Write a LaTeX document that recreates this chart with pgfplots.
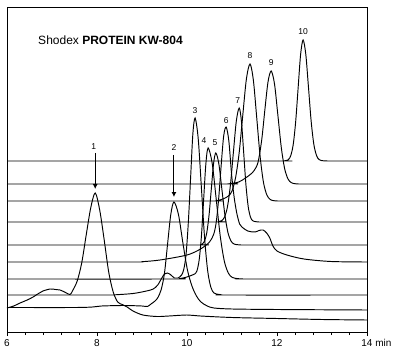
\documentclass[border=0pt]{standalone}
\usepackage{fontspec}
\setmainfont{Liberation Sans}
\usepackage{pgfplots}
\pgfplotsset{compat=1.18}
\usetikzlibrary{arrows.meta}
\begin{document}
\begin{tikzpicture}
\useasboundingbox (0,0) rectangle (397pt,354pt);
\begin{axis}[
  at={(7pt,22pt)}, anchor=south west,
  scale only axis, width=360pt, height=325pt,
  xmin=6, xmax=14, ymin=0, ymax=325,
  xtick={6,8,10,12,14},
  xticklabels={6,8,10,12,14\rlap{ min}},
  minor x tick num=4,
  xtick pos=bottom, tick align=outside,
  major tick length=4pt, minor tick length=3pt,
  ytick=\empty,
  axis line style={line width=0.9pt},
  every tick/.style={black, line width=0.7pt},
  tick label style={font=\fontsize{10}{12}\selectfont},
  /pgf/number format/assume math mode=true,
  clip=false,
  tr/.style={black, solid, line width=0.95pt, smooth, tension=0.5, no markers},
]
% trace 10
\addplot[tr] coordinates {(6,171) (11.9,171) (12.15,171.1) (12.25,172.3) (12.305,176.3) (12.36,187.3) (12.415,210.3) (12.47,244.4) (12.525,277.7) (12.58,292) (12.64,277.7) (12.70,244.4) (12.76,210.3) (12.82,187.3) (12.88,176.3) (12.94,172.3) (13.05,171.1) (13.3,171) (14,171)};
% trace 9
\addplot[tr] coordinates {(6,148) (10.8,148) (10.95,148.3) (11.15,150) (11.3,154) (11.42,158) (11.5,162) (11.58,170) (11.66,192) (11.73,222) (11.80,250) (11.87,261) (11.945,248) (12.02,216.6) (12.095,184.7) (12.17,163.3) (12.245,153) (12.32,149.3) (12.42,148.2) (12.6,148) (14,148)};
% trace 8
\addplot[tr] coordinates {(6,131) (10.5,131) (10.65,131.2) (10.8,133) (10.92,136) (11.0,141) (11.08,154.5) (11.16,179.5) (11.24,217) (11.32,253) (11.4,268) (11.475,251.8) (11.55,214.1) (11.625,175.5) (11.70,149.5) (11.775,137) (11.85,132.5) (11.95,131.2) (12.2,131) (14,131)};
% trace 7
\addplot[tr] coordinates {(6,110) (10.55,110) (10.7,110.3) (10.77,111.3) (10.835,115) (10.9,125.4) (10.965,147) (11.03,179.2) (11.095,210.6) (11.16,224) (11.21,210.6) (11.26,179.2) (11.31,147) (11.36,125.4) (11.41,115) (11.46,111.3) (11.55,110.2) (11.8,110) (14,110)};
% trace 5
\addplot[tr] coordinates {(6,87) (10.2,87) (10.3,87.2) (10.34,88) (10.39,91) (10.44,99.4) (10.49,116.9) (10.54,142.8) (10.59,168.2) (10.64,179) (10.7075,168.2) (10.775,142.8) (10.8425,116.9) (10.91,99.4) (10.9775,91) (11.045,88) (11.15,87.2) (11.4,87) (14,87)};
% trace 6
\addplot[tr] coordinates {(6,70) (8.8,70) (9.0,70.3) (9.4,72) (10.0,77) (10.3,83) (10.5,90) (10.595,98) (10.65,110) (10.705,134) (10.76,167) (10.815,196) (10.87,205) (10.93,191) (10.99,158) (11.05,134) (11.11,118) (11.17,108) (11.22,105) (11.35,101) (11.51,100) (11.6,101.5) (11.69,102) (11.77,99) (11.84,94) (11.91,86) (12.0,81) (12.22,77) (12.6,73) (13.2,70.5) (14,70)};
% trace 4
\addplot[tr] coordinates {(6,53) (9.7,53) (9.85,53.5) (10.0,55) (10.12,57) (10.17,58) (10.22,61) (10.27,72) (10.32,95.5) (10.37,132.5) (10.42,168.6) (10.47,184) (10.56,168.6) (10.65,132.5) (10.74,95.5) (10.83,70.7) (10.92,58.8) (11.01,54.5) (11.15,53.3) (11.4,53) (14,53)};
% trace 3
\addplot[tr] coordinates {(6,37) (8.2,37) (8.4,37.2) (8.8,38.5) (9.1,41) (9.25,43) (9.35,47) (9.44,54) (9.5,58) (9.56,59) (9.63,57.5) (9.72,54) (9.8,54) (9.88,57) (9.93,63) (9.98,78) (10.03,110) (10.08,154) (10.13,198) (10.18,214) (10.25,193) (10.32,144.4) (10.39,94.5) (10.46,61) (10.53,44.8) (10.60,39) (10.72,37.5) (10.9,37) (14,37)};
% trace 2
\addplot[tr] coordinates {(6,24.5) (7.5,24.5) (7.9,25) (8.1,26) (8.6,26.5) (9.0,26) (9.12,25.5) (9.2,28) (9.29,31) (9.36,35) (9.43,43) (9.5,59) (9.57,88.7) (9.64,117.6) (9.71,130) (9.81,117.6) (9.91,88.7) (10.01,62) (10.11,46) (10.21,36) (10.31,30) (10.45,26) (10.6,24) (11.0,23) (12,22.5) (14,22)};
% trace 1
\addplot[tr] coordinates {(6,24) (6.15,26) (6.29,29) (6.45,32) (6.58,35) (6.7,38.5) (6.8,41) (6.96,43) (7.08,42.5) (7.18,42) (7.3,39.5) (7.4,37.5) (7.46,41.5) (7.56,51) (7.66,69) (7.76,97) (7.86,124) (7.96,139) (8.06,122) (8.16,92) (8.26,60) (8.36,40) (8.46,30) (8.56,27.5) (8.67,25) (8.8,21) (9.02,17) (9.33,15.5) (9.6,16) (10.0,17) (10.3,16) (11,14.5) (12,13.5) (13,12.5) (14,12)};
% arrows
\draw[line width=0.9pt, -{Latex[length=5pt,width=5pt]}] (axis cs:7.96,179) -- (axis cs:7.96,143);
\draw[line width=0.9pt, -{Latex[length=5pt,width=5pt]}] (axis cs:9.71,177) -- (axis cs:9.71,135);
% labels
\begin{scope}[every node/.style={font=\fontsize{8.5}{9}\selectfont, inner sep=0pt}]
\node at (axis cs:7.93,185) {1};
\node at (axis cs:9.71,184) {2};
\node at (axis cs:10.18,221) {3};
\node at (axis cs:10.38,191) {4};
\node at (axis cs:10.62,189) {5};
\node at (axis cs:10.87,211) {6};
\node at (axis cs:11.13,231) {7};
\node at (axis cs:11.40,276) {8};
\node at (axis cs:11.87,269) {9};
\node at (axis cs:12.58,300) {10};
\end{scope}
\node[anchor=west, inner sep=0pt, font=\fontsize{12}{14}\selectfont] at (axis cs:6.69,292) {Shodex \textbf{PROTEIN KW-804}};
\end{axis}
\end{tikzpicture}
\end{document}
